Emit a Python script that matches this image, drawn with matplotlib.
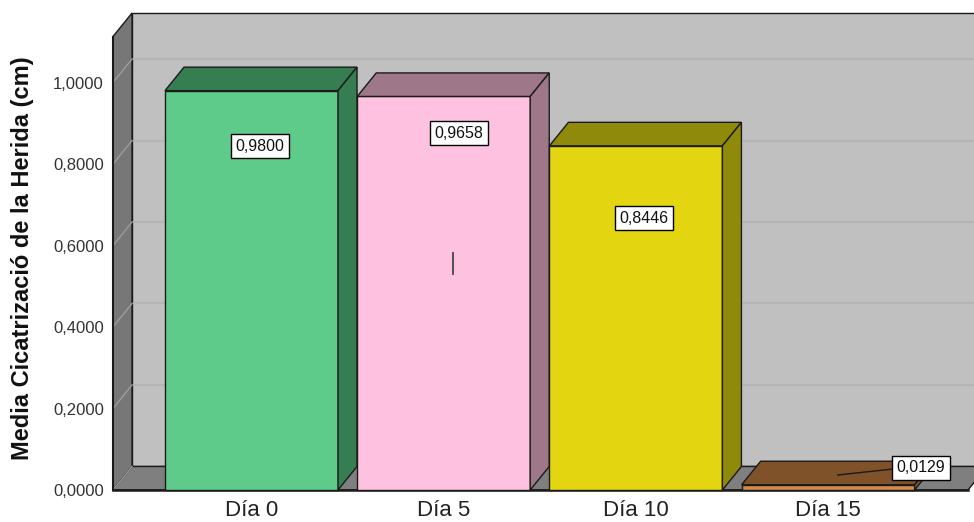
import matplotlib
matplotlib.use("Agg")
import matplotlib.pyplot as plt
from matplotlib.patches import Polygon

plt.rcParams['font.family'] = ['Liberation Sans', 'DejaVu Sans']

# data
categories = ["Día 0", "Día 5", "Día 10", "Día 15"]
values = [0.9800, 0.9658, 0.8446, 0.0129]
value_labels = ["0,9800", "0,9658", "0,8446", "0,0129"]
yticks = [0.0, 0.2, 0.4, 0.6, 0.8, 1.0]
ytick_labels = ["0,0000", "0,2000", "0,4000", "0,6000", "0,8000", "1,0000"]

front_colors = ["#5ECB8B", "#FEC2E0", "#E3D611", "#D58A4C"]
dark_colors = ["#367E52", "#9E7889", "#8F8A0A", "#7F5229"]

# geometry (data units)
W = 0.90          # bar width
DX, DY = 0.099, 0.0577   # depth offset
XL, XR = -0.7206, 3.728  # left / right front edge of floor
YTOP = 1.1706     # top of back wall
EDGE = "#1a1a1a"

fig = plt.figure(figsize=(9.74, 5.22), dpi=100)
ax = fig.add_axes([113/974, 32/522, 861/974, 490/522])
ax.set_xlim(XL, 3.759)
ax.set_ylim(0, 1.2025)
for s in ax.spines.values():
    s.set_visible(False)

def poly(pts, fc, ec=EDGE, lw=1.0, z=1, clip=False):
    p = Polygon(pts, closed=True, facecolor=fc, edgecolor=ec, linewidth=lw,
                zorder=z, clip_on=clip, joinstyle="miter")
    ax.add_patch(p)

# walls
poly([(XL + DX, DY), (XR + 2, DY), (XR + 2, YTOP), (XL + DX, YTOP)], "#C0C0C0", z=1)
poly([(XL, 0), (XL + DX, DY), (XL + DX, YTOP), (XL, YTOP - DY)], "#777777", z=2)
poly([(XL, 0), (XR, 0), (XR + DX, DY), (XL + DX, DY)], "#7F7F7F", z=2)

# gridlines
for t in yticks[1:]:
    ax.plot([XL + DX, XR + 2], [t + DY, t + DY], color="#B3B3B3", lw=1.2, zorder=1.5, clip_on=True)
    ax.plot([XL, XL + DX], [t, t + DY], color="#9C9C9C", lw=1.0, zorder=2.5, clip_on=False)
ax.plot([XL, XL + DX], [0, DY], color="#9C9C9C", lw=1.0, zorder=2.5, clip_on=False)
ax.plot([XL, XR], [0, 0], color=EDGE, lw=1.8, zorder=3, clip_on=False)
ax.plot([XL, XL], [0, YTOP - DY], color=EDGE, lw=1.5, zorder=3, clip_on=False)

# bars
for i, v in enumerate(values):
    x0, x1 = i - W / 2, i + W / 2
    poly([(x0, 0), (x1, 0), (x1, v), (x0, v)], front_colors[i], z=4)
    poly([(x0, v), (x1, v), (x1 + DX, v + DY), (x0 + DX, v + DY)], dark_colors[i], z=4)
    poly([(x1, 0), (x1 + DX, DY), (x1 + DX, v + DY), (x1, v)], dark_colors[i], z=4)

# value labels
label_pos = [(0.044, 0.844), (1.080, 0.876), (2.042, 0.6675), (3.483, 0.054)]
for (lx, ly), txt in zip(label_pos, value_labels):
    ax.text(lx, ly, txt, ha="center", va="center", fontsize=11.5, zorder=6,
            color="#111111",
            bbox=dict(boxstyle="square,pad=0.3", fc="white", ec="black", lw=1.0))
ax.plot([3.05, 3.337], [0.0368, 0.0515], color=EDGE, lw=1.0, zorder=5)
ax.plot([1.048, 1.048], [0.530, 0.5816], color="#444444", lw=1.3, zorder=5)

ax.set_yticks(yticks)
ax.set_yticklabels(ytick_labels, fontsize=12, color="#333333")
ax.set_xticks(range(len(categories)))
ax.set_xticklabels(categories, fontsize=16, color="#222222")
ax.tick_params(axis="y", length=0, pad=6.5)
ax.tick_params(axis="x", length=0, pad=7)

fig.text(23/974, 264/522, "Media Cicatrizació de la Herida (cm)", rotation=90,
         ha="center", va="center", fontsize=17, fontweight="bold", color="#111111")

fig.savefig("out.png", dpi=100)
